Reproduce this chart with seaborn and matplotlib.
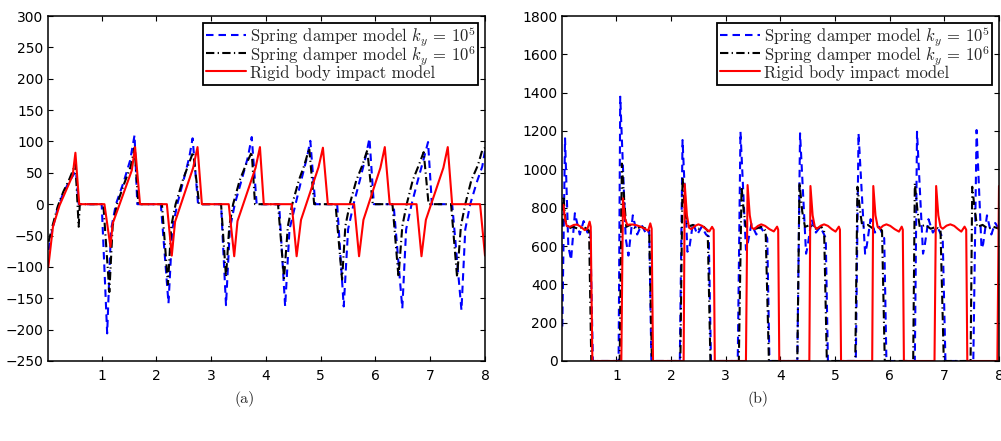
import matplotlib
matplotlib.use("Agg")
import matplotlib.pyplot as plt
import pandas as pd
import seaborn as sns
from matplotlib.font_manager import FontProperties

# ---------------------------------------------------------------------------
# (a) tangential contact force  -- breakpoints (time, force)
# ---------------------------------------------------------------------------
a_k5_t = [0.03, 0.10, 0.20, 0.30, 0.40, 0.50, 0.53, 0.58,
          1.00, 1.10, 1.17, 1.26, 1.40, 1.52, 1.60, 1.65,
          2.08, 2.22, 2.29, 2.38, 2.50, 2.60, 2.66, 2.76,
          3.18, 3.27, 3.34, 3.43, 3.56, 3.67, 3.74, 3.83,
          4.24, 4.35, 4.43, 4.54, 4.65, 4.75, 4.81, 4.90,
          5.30, 5.42, 5.50, 5.60, 5.72, 5.82, 5.89, 5.97,
          6.33, 6.49, 6.56, 6.66, 6.78, 6.88, 6.96, 7.03,
          7.40, 7.57, 7.64, 7.73, 7.85, 7.95, 8.00]
a_k5_v = [-73, -40, -5, 18, 35, 49, 52, 0,
          0, -206, -41, 0, 35, 70, 110, 0,
          0, -158, -40, 0, 40, 75, 105, 0,
          0, -161, -40, 0, 40, 75, 107, 0,
          0, -163, -40, 0, 40, 75, 101, 0,
          0, -163, -40, 0, 40, 75, 105, 0,
          0, -166, -40, 0, 40, 72, 99, 0,
          0, -169, -40, 0, 35, 60, 85]

a_k6_t = [0.03, 0.10, 0.20, 0.30, 0.40, 0.48, 0.52, 0.58, 0.60,
          1.03, 1.14, 1.20, 1.28, 1.42, 1.53, 1.60, 1.67,
          2.10, 2.21, 2.27, 2.35, 2.48, 2.58, 2.67, 2.78,
          3.18, 3.27, 3.33, 3.40, 3.52, 3.63, 3.74, 3.80,
          4.22, 4.33, 4.40, 4.48, 4.60, 4.70, 4.79, 4.88,
          5.27, 5.39, 5.45, 5.53, 5.65, 5.76, 5.85, 5.95,
          6.31, 6.42, 6.49, 6.57, 6.68, 6.79, 6.88, 6.97,
          7.38, 7.49, 7.56, 7.64, 7.75, 7.87, 7.95, 8.00]
a_k6_v = [-60, -35, -3, 20, 38, 55, 65, -36, 0,
          0, -140, -35, 0, 35, 60, 90, 0,
          0, -128, -35, 0, 38, 62, 83, 0,
          0, -116, -35, 0, 38, 62, 83, 0,
          0, -118, -35, 0, 38, 62, 89, 0,
          0, -120, -35, 0, 38, 62, 86, 0,
          0, -116, -35, 0, 38, 62, 83, 0,
          0, -116, -35, 0, 38, 62, 86, 90]

a_rig_t = [0.025, 0.11, 0.23, 0.35, 0.47, 0.52, 0.59,
           1.05, 1.16, 1.20, 1.55, 1.61, 1.70,
           2.19, 2.28, 2.34, 2.67, 2.75, 2.83,
           3.32, 3.42, 3.48, 3.81, 3.89, 3.96,
           4.47, 4.56, 4.64, 4.96, 5.04, 5.13,
           5.61, 5.70, 5.78, 6.09, 6.17, 6.26,
           6.75, 6.84, 6.92, 7.24, 7.32, 7.40,
           7.91, 8.00]
a_rig_v = [-100, -36, -2, 22, 46, 82, 0,
           0, -68, -31, 54, 91, 0,
           0, -82, -28, 58, 91, 0,
           0, -83, -27, 58, 91, 0,
           0, -83, -25, 59, 90, 0,
           0, -83, -25, 58, 91, 0,
           0, -83, -25, 58, 91, 0,
           0, -82]

# ---------------------------------------------------------------------------
# (b) normal contact force  -- breakpoints (time, force)
# ---------------------------------------------------------------------------
b_k5_t = [0.01, 0.06, 0.12, 0.17, 0.24, 0.33, 0.40, 0.47, 0.52, 0.57,
          1.04, 1.07, 1.17, 1.22, 1.30, 1.38, 1.46, 1.55, 1.60, 1.64,
          2.16, 2.21, 2.30, 2.34, 2.40, 2.48, 2.56, 2.64, 2.69, 2.73,
          3.22, 3.27, 3.37, 3.40, 3.47, 3.56, 3.64, 3.72, 3.76, 3.80,
          4.31, 4.36, 4.47, 4.50, 4.57, 4.65, 4.73, 4.80, 4.83, 4.87,
          5.38, 5.43, 5.55, 5.58, 5.65, 5.73, 5.81, 5.87, 5.90, 5.94,
          6.46, 6.50, 6.61, 6.64, 6.71, 6.79, 6.87, 6.94, 6.97, 7.02,
          7.53, 7.59, 7.68, 7.71, 7.78, 7.86, 7.93, 8.00]
b_k5_v = [180, 1162, 600, 527, 771, 660, 730, 670, 690, 0,
          0, 1379, 640, 550, 760, 660, 710, 660, 680, 0,
          0, 1153, 570, 600, 720, 660, 700, 660, 650, 0,
          0, 1196, 580, 610, 715, 660, 700, 660, 640, 0,
          0, 1188, 560, 600, 740, 670, 700, 660, 640, 0,
          0, 1188, 560, 600, 740, 670, 700, 660, 640, 0,
          0, 1196, 560, 600, 740, 670, 700, 660, 640, 0,
          0, 1205, 587, 610, 760, 660, 720, 690]

b_k6_t = [0.01, 0.03, 0.07, 0.12, 0.20, 0.30, 0.40, 0.50, 0.54,
          1.06, 1.10, 1.14, 1.18, 1.25, 1.35, 1.45, 1.55, 1.60, 1.65,
          2.17, 2.21, 2.25, 2.30, 2.40, 2.50, 2.60, 2.67, 2.72,
          3.24, 3.29, 3.33, 3.37, 3.45, 3.55, 3.65, 3.73, 3.79,
          4.31, 4.35, 4.40, 4.45, 4.55, 4.65, 4.75, 4.80, 4.85,
          5.37, 5.41, 5.46, 5.50, 5.60, 5.70, 5.80, 5.86, 5.91,
          6.43, 6.46, 6.51, 6.55, 6.65, 6.75, 6.85, 6.93, 6.99,
          7.48, 7.51, 7.56, 7.60, 7.70, 7.80, 7.90, 8.00]
b_k6_v = [700, 860, 730, 690, 700, 690, 700, 680, 0,
          0, 1030, 850, 700, 710, 690, 700, 690, 680, 0,
          0, 961, 800, 700, 710, 690, 700, 680, 0,
          0, 909, 780, 700, 710, 690, 700, 680, 0,
          0, 930, 780, 700, 710, 690, 700, 680, 0,
          0, 909, 780, 700, 710, 690, 700, 680, 0,
          0, 927, 780, 700, 710, 690, 700, 680, 0,
          0, 909, 780, 700, 710, 690, 700, 690]

b_rig_t = [0.01, 0.03, 0.06, 0.09, 0.15, 0.22, 0.28, 0.35, 0.42, 0.47, 0.51, 0.53, 0.56,
           1.09, 1.12, 1.16, 1.20, 1.24, 1.30, 1.37, 1.45, 1.53, 1.58, 1.62, 1.645, 1.67,
           2.23, 2.25, 2.29, 2.33, 2.37, 2.44, 2.50, 2.57, 2.64, 2.70, 2.75, 2.78, 2.80,
           3.37, 3.40, 3.44, 3.48, 3.52, 3.59, 3.65, 3.72, 3.80, 3.88, 3.94, 3.96, 3.98,
           4.53, 4.55, 4.59, 4.63, 4.67, 4.74, 4.80, 4.87, 4.94, 5.01, 5.07, 5.09, 5.11,
           5.68, 5.70, 5.74, 5.78, 5.82, 5.88, 5.94, 6.01, 6.09, 6.17, 6.22, 6.24, 6.26,
           6.82, 6.85, 6.89, 6.93, 6.97, 7.04, 7.11, 7.18, 7.25, 7.31, 7.37, 7.40, 7.42,
           7.97, 8.00]
b_rig_v = [800, 815, 740, 705, 700, 710, 712, 700, 683, 690, 727, 700, 0,
           0, 849, 740, 710, 712, 712, 708, 700, 688, 680, 718, 690, 0,
           0, 923, 760, 695, 688, 705, 713, 705, 688, 676, 700, 685, 0,
           0, 918, 760, 695, 688, 705, 713, 705, 688, 676, 701, 685, 0,
           0, 913, 760, 700, 690, 706, 713, 705, 688, 675, 701, 685, 0,
           0, 913, 760, 700, 690, 706, 713, 705, 688, 675, 701, 685, 0,
           0, 913, 760, 700, 690, 706, 713, 705, 688, 675, 701, 685, 0,
           0, 913]

models = ["k5", "k6", "rigid"]
labels = [r"Spring damper model $k_y\,=\,10^5$",
          r"Spring damper model $k_y\,=\,10^6$",
          "Rigid body impact model"]
colors = {"k5": "#0000ff", "k6": "#000000", "rigid": "#ff0000"}
dashes = {"k5": (3.6, 2.4), "k6": (4.0, 1.6, 0.6, 1.6), "rigid": ""}


def frame(series):
    parts = []
    for name, (t, v) in zip(models, series):
        parts.append(pd.DataFrame({"t": t, "F": v, "model": name}))
    return pd.concat(parts, ignore_index=True)


df_a = frame([(a_k5_t, a_k5_v), (a_k6_t, a_k6_v), (a_rig_t, a_rig_v)])
df_b = frame([(b_k5_t, b_k5_v), (b_k6_t, b_k6_v), (b_rig_t, b_rig_v)])

sns.set_theme(style="ticks")
plt.rcParams.update({
    "font.family": ["DejaVu Sans"],
    "mathtext.fontset": "cm",
    "axes.linewidth": 1.1,
    "axes.edgecolor": "black",
    "xtick.direction": "in",
    "ytick.direction": "in",
    "xtick.top": True,
    "ytick.right": True,
    "xtick.major.size": 3.5,
    "ytick.major.size": 3.5,
    "xtick.major.width": 0.8,
    "ytick.major.width": 0.8,
    "xtick.color": "black",
    "ytick.color": "black",
    "xtick.labelsize": 10,
    "ytick.labelsize": 10,
    "xtick.major.pad": 6,
    "ytick.major.pad": 3.5,
})

W, H = 1001, 441
fig = plt.figure(figsize=(W / 100, H / 100), dpi=100)
ax_a = fig.add_axes([48.3 / W, 80 / H, (485 - 48.3) / W, 345 / H])
ax_b = fig.add_axes([562.3 / W, 80 / H, (999 - 562.3) / W, 345 / H])

legend_font = FontProperties(family="cmr10", size=12)

for ax, df, xlo, ylim, yticks in [
    (ax_a, df_a, 0.025, (-250, 300), range(-250, 301, 50)),
    (ax_b, df_b, 0.01, (0, 1800), range(0, 1801, 200)),
]:
    sns.lineplot(data=df, x="t", y="F", hue="model", style="model",
                 hue_order=models, style_order=models,
                 palette=colors, dashes=dashes,
                 estimator=None, sort=False, linewidth=1.5,
                 legend=False, ax=ax)
    ax.set_xlim(xlo, 8)
    ax.set_ylim(*ylim)
    ax.set_xticks(range(1, 9))
    ax.set_yticks(list(yticks))
    ax.set_xlabel("")
    ax.set_ylabel("")
    for sp in ax.spines.values():
        sp.set_visible(True)
        sp.set_color("black")
    # equal row heights: the handle box sets the height of every entry
    leg = ax.legend(ax.lines[:3], labels, loc="upper right", prop=legend_font,
                    frameon=True, fancybox=False, framealpha=1,
                    edgecolor="black", handlelength=2.4, handleheight=1.45,
                    handletextpad=0.25, labelspacing=-0.3, borderpad=0.15,
                    borderaxespad=0.4)
    leg.get_frame().set_linewidth(1.3)

cap_font = FontProperties(family="cmr10", size=11.5)
fig.text(245 / W, 1 - 399 / H, "(a)", ha="center", va="center", fontproperties=cap_font)
fig.text(758 / W, 1 - 399 / H, "(b)", ha="center", va="center", fontproperties=cap_font)

fig.savefig("out.png", dpi=100)
